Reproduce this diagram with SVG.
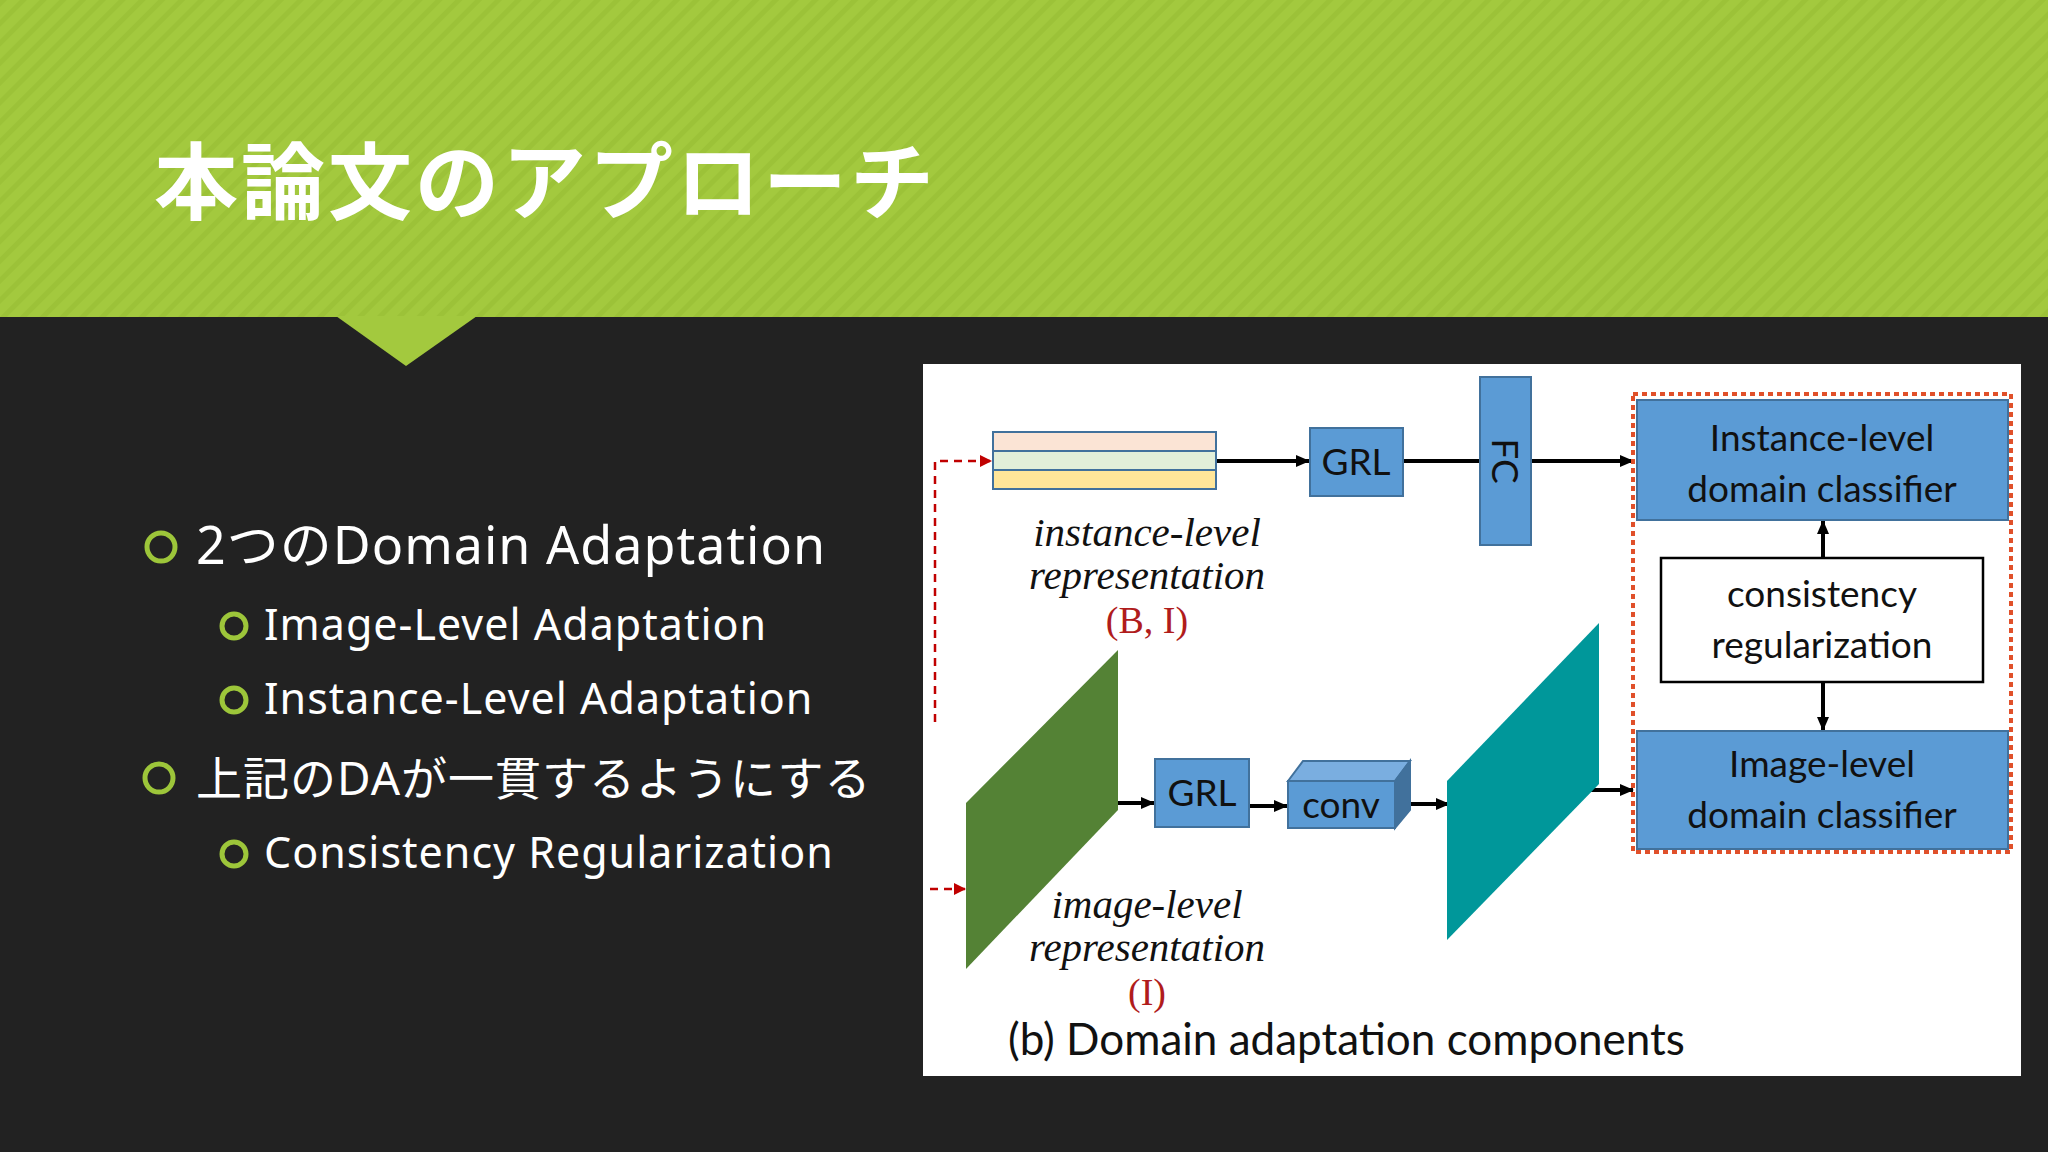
<svg xmlns="http://www.w3.org/2000/svg" width="2048" height="1152" viewBox="0 0 2048 1152">
<defs>
<pattern id="stripes" width="14" height="14" patternUnits="userSpaceOnUse" patternTransform="rotate(45)">
<rect width="14" height="14" fill="#a3c93e"/><rect width="5" height="14" fill="#9cc238"/>
</pattern>
<marker id="ah" markerWidth="14" markerHeight="12" refX="13" refY="6" orient="auto" markerUnits="userSpaceOnUse"><path d="M0,0 L14,6 L0,12 z" fill="#000"/></marker>
<marker id="rh" markerWidth="12" markerHeight="12" refX="11" refY="6" orient="auto" markerUnits="userSpaceOnUse"><path d="M0,0 L12,6 L0,12 z" fill="#c00000"/></marker>
</defs>
<style>
.b{font-family:"Noto Sans","Noto Sans CJK JP",sans-serif;fill:#fff;letter-spacing:1px}
.blue{fill:#5b9bd5;stroke:#41719c;stroke-width:2}
.lbl{font-family:Lato,"Liberation Sans",sans-serif;font-size:37px;fill:#111;text-anchor:middle}
.it{font-family:"Liberation Serif",serif;font-style:italic;font-size:41px;fill:#111;text-anchor:middle}
.red{font-family:"Liberation Serif",serif;font-size:38px;fill:#b01c1c;text-anchor:middle}
.ar{stroke:#000;stroke-width:4;fill:none;marker-end:url(#ah)}
.dash{stroke:#c00000;stroke-width:2.5;fill:none;stroke-dasharray:8 6}
.bul{fill:none;stroke:#9dc63a;stroke-width:5}
</style>
<rect width="2048" height="1152" fill="#222222"/>
<rect width="2048" height="317" fill="url(#stripes)"/>
<polygon points="336,316 477,316 406,366" fill="#a3c93e"/>
<text x="154" y="213" font-family="Noto Sans CJK JP,sans-serif" font-weight="bold" font-size="84" letter-spacing="3" fill="#fff">本論文のアプローチ</text>
<g id="bullets">
<circle class="bul" cx="161" cy="547" r="14"/><text class="b" x="196" y="564" font-size="52">2つのDomain Adaptation</text>
<circle class="bul" cx="234" cy="626" r="12"/><text class="b" x="264" y="640" font-size="43">Image-Level Adaptation</text>
<circle class="bul" cx="234" cy="700" r="12"/><text class="b" x="264" y="714" font-size="43">Instance-Level Adaptation</text>
<circle class="bul" cx="159" cy="778" r="14"/><text class="b" x="196" y="795" font-size="46">上記のDAが一貫するようにする</text>
<circle class="bul" cx="234" cy="854" r="12"/><text class="b" x="264" y="868" font-size="43">Consistency Regularization</text>
</g>
<rect x="923" y="364" width="1098" height="712" fill="#fff"/>
<g id="connectors">
<polyline class="dash" points="935,722 935,461 991,461" marker-end="url(#rh)"/>
<line class="dash" x1="930" y1="889" x2="965" y2="889" marker-end="url(#rh)"/>
<line class="ar" x1="1216" y1="461" x2="1309" y2="461"/>
<line x1="1403" y1="461" x2="1480" y2="461" stroke="#000" stroke-width="4"/>
<line class="ar" x1="1531" y1="461" x2="1633" y2="461"/>
<line class="ar" x1="1823" y1="558" x2="1823" y2="521"/>
<line class="ar" x1="1823" y1="682" x2="1823" y2="730"/>
<line class="ar" x1="1064" y1="803" x2="1154" y2="803"/>
<line class="ar" x1="1249" y1="806" x2="1287" y2="806"/>
<line class="ar" x1="1395" y1="804" x2="1449" y2="804"/>
<line class="ar" x1="1550" y1="790" x2="1633" y2="790"/>
</g>
<g id="inst-rep">
<rect x="993" y="432" width="223" height="19" fill="#fbe4d5" stroke="#41719c" stroke-width="2"/>
<rect x="993" y="451" width="223" height="19" fill="#e2efd9" stroke="#41719c" stroke-width="2"/>
<rect x="993" y="470" width="223" height="19" fill="#ffe699" stroke="#41719c" stroke-width="2"/>
<text class="it" x="1147" y="546">instance-level</text>
<text class="it" x="1147" y="589">representation</text>
<text class="red" x="1147" y="633">(B, I)</text>
</g>
<g id="grl1"><rect class="blue" x="1310" y="428" width="93" height="68"/><text class="lbl" x="1356" y="475">GRL</text></g>
<g id="fc"><rect class="blue" x="1480" y="377" width="51" height="168"/><text class="lbl" transform="translate(1492,461) rotate(90)">FC</text></g>
<g id="dashbox"><rect x="1633" y="394" width="378" height="458" fill="none" stroke="#e0502a" stroke-width="4" stroke-dasharray="5 4"/></g>
<g id="inst-cls"><rect class="blue" x="1637" y="400" width="371" height="120"/><text class="lbl" x="1822" y="451">Instance-level</text><text class="lbl" x="1822" y="502">domain classifier</text></g>
<g id="cons"><rect x="1661" y="558" width="322" height="124" fill="#fff" stroke="#000" stroke-width="2.5"/><text class="lbl" x="1822" y="607">consistency</text><text class="lbl" x="1822" y="658">regularization</text></g>
<g id="img-cls"><rect class="blue" x="1637" y="731" width="371" height="118"/><text class="lbl" x="1822" y="777">Image-level</text><text class="lbl" x="1822" y="828">domain classifier</text></g>
<g id="img-rep">
<polygon points="966,803 1118,650 1118,810 966,969" fill="#548235"/>
<text class="it" x="1147" y="918">image-level</text>
<text class="it" x="1147" y="961">representation</text>
<text class="red" x="1147" y="1005">(I)</text>
</g>
<g id="grl2"><rect class="blue" x="1155" y="759" width="94" height="68"/><text class="lbl" x="1202" y="806">GRL</text></g>
<g id="conv">
<polygon points="1288,781 1303,761 1410,761 1395,781" fill="#7aaee0" stroke="#41719c" stroke-width="2"/>
<polygon points="1395,781 1410,761 1410,810 1395,828" fill="#41719c" stroke="#41719c" stroke-width="2"/>
<rect class="blue" x="1288" y="781" width="107" height="47"/><text class="lbl" x="1341" y="818">conv</text>
</g>
<g id="teal"><polygon points="1447,781 1599,623 1599,784 1447,940" fill="#00979a"/></g>
<text x="1008" y="1055" font-family="Lato,'Liberation Sans',sans-serif" font-size="44" fill="#111">(b) Domain adaptation components</text>
</svg>
